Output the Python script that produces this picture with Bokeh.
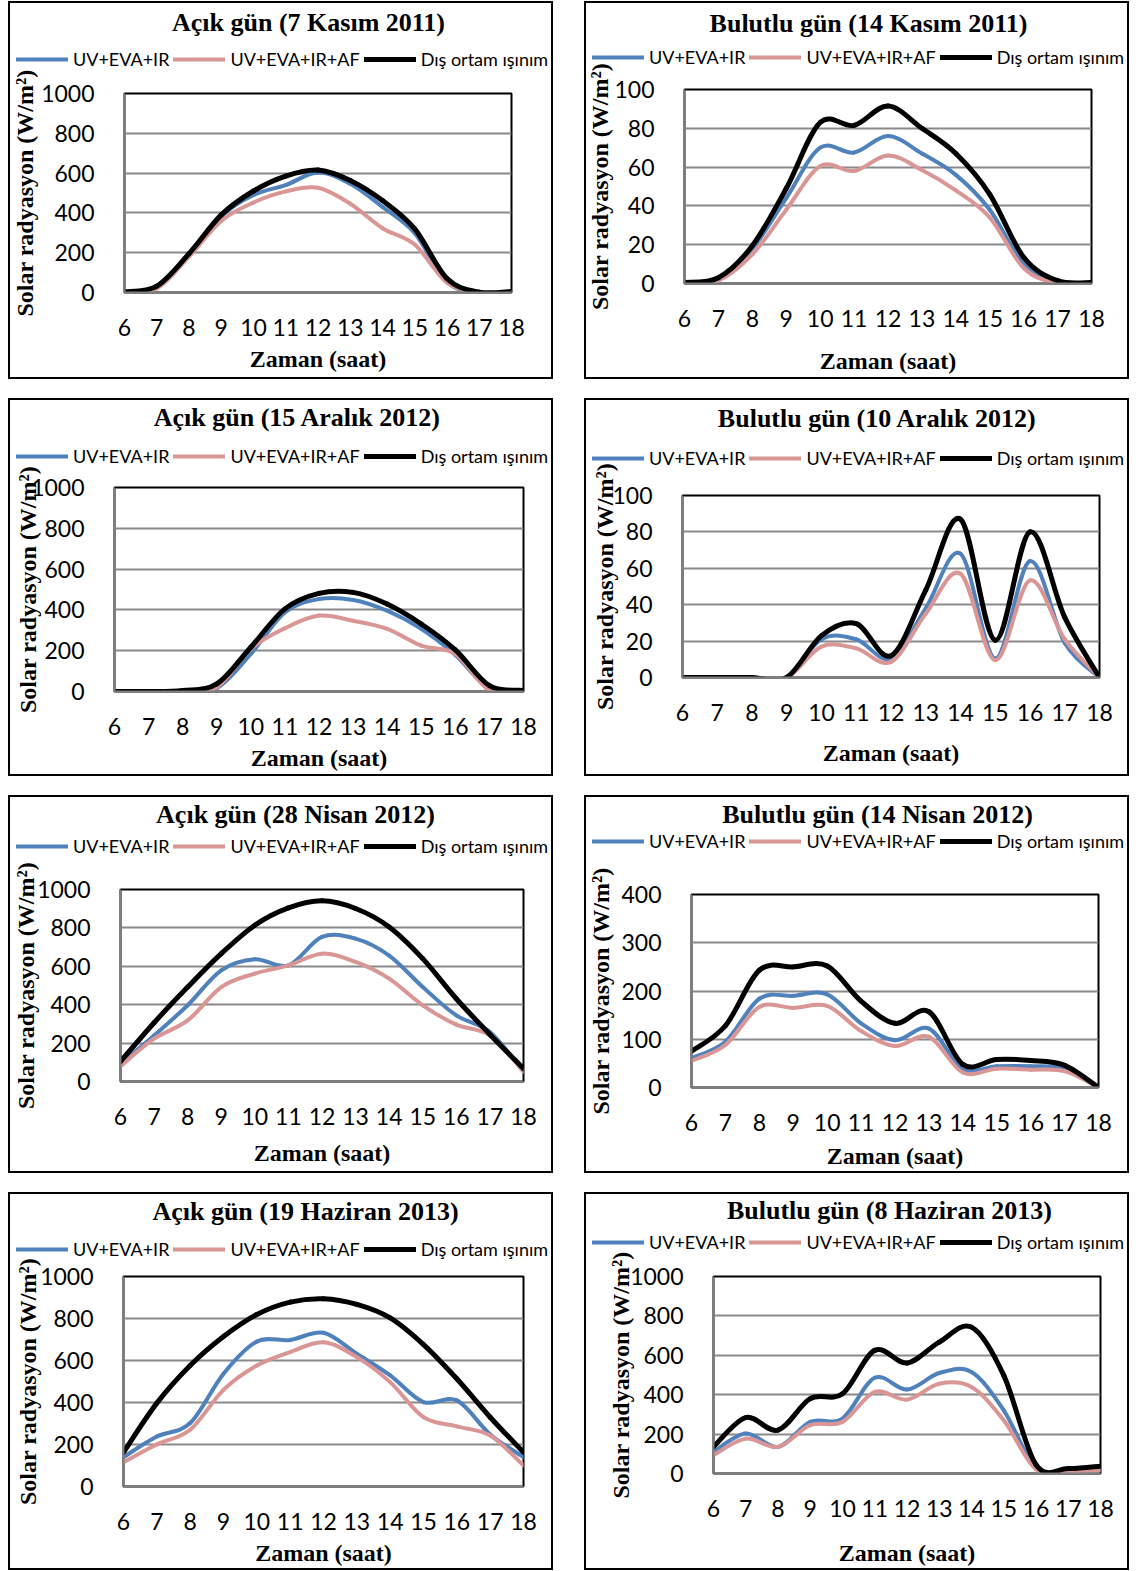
from bokeh.plotting import figure
from bokeh.models import (Range1d, SingleIntervalTicker, FixedTicker, Legend,
                          LegendItem, Label, ColumnDataSource)
from bokeh.embed import file_html
from bokeh.resources import INLINE

# ---------------------------------------------------------------- data
hours = [6, 7, 8, 9, 10, 11, 12, 13, 14, 15, 16, 17, 18]

titles = [
    "Açık gün (7 Kasım 2011)", "Bulutlu gün (14 Kasım 2011)",
    "Açık gün (15 Aralık 2012)", "Bulutlu gün (10 Aralık 2012)",
    "Açık gün (28 Nisan 2012)", "Bulutlu gün (14 Nisan 2012)",
    "Açık gün (19 Haziran 2013)", "Bulutlu gün (8 Haziran 2013)",
]
y_max = [1000, 100, 1000, 100, 1000, 400, 1000, 1000]
y_step = [200, 20, 200, 20, 200, 100, 200, 200]

series_names = ["UV+EVA+IR", "UV+EVA+IR+AF", "Dış ortam ışınım"]

# 7 Kasım 2011 (açık)
blue_1 = [2, 25, 188, 383, 490, 540, 603, 546, 430, 298, 52, 0, 3]
pink_1 = [2, 20, 180, 360, 452, 508, 526, 446, 323, 241, 50, 0, 3]
black_1 = [3, 32, 195, 390, 510, 585, 615, 563, 462, 320, 70, 2, 5]
# 14 Kasım 2011 (bulutlu)
blue_2 = [0, 2.5, 18, 44, 70, 67.5, 76, 67, 56, 38, 10, 0.5, 0]
pink_2 = [0, 1.5, 15, 38, 60.5, 58, 66, 58.5, 48, 34, 8, 0, 0]
black_2 = [0.5, 3, 19.5, 49, 83, 81.5, 91.5, 80, 67, 46, 13.5, 1.5, 0.5]
# 15 Aralık 2012 (açık)
blue_3 = [0, 0, 0, 16, 184, 388, 453, 449, 396, 307, 179, 13, 0]
pink_3 = [0, 0, 0, 21, 209, 310, 372, 347, 307, 225, 184, 5, 0]
black_3 = [0, 0, 5, 37, 217, 405, 481, 486, 429, 331, 204, 29, 5]
# 10 Aralık 2012 (bulutlu)
blue_4 = [0, 0, 0, 0, 21, 21, 10.4, 38, 68, 10.4, 64, 19, 0]
pink_4 = [0, 0, 0, 0, 17, 16, 8.6, 35, 57, 9.5, 53.4, 21, 0]
black_4 = [0, 0, 0, 0, 23, 29.6, 12, 48, 87, 20.5, 80, 33, 0]
# 28 Nisan 2012 (açık)
blue_5 = [92, 240, 397, 579, 637, 605, 753, 744, 656, 492, 344, 258, 52]
pink_5 = [80, 223, 318, 492, 562, 605, 666, 623, 536, 397, 296, 240, 52]
black_5 = [104, 306, 492, 666, 814, 904, 941, 901, 805, 640, 431, 245, 67]
# 14 Nisan 2012 (bulutlu)
blue_6 = [61, 95, 184, 190, 193, 133, 98, 122, 39, 44, 44, 39, 0]
pink_6 = [55, 88, 167, 165, 169, 117, 86, 105, 31, 39, 37, 34, 0]
black_6 = [75, 128, 243, 250, 252, 179, 133, 157, 48, 58, 56, 46, 0]
# 19 Haziran 2013 (açık)
blue_7 = [140, 238, 302, 537, 690, 698, 732, 632, 529, 402, 410, 248, 140]
pink_7 = [116, 200, 270, 460, 576, 640, 687, 616, 497, 330, 286, 243, 100]
black_7 = [163, 397, 576, 714, 819, 878, 894, 867, 803, 676, 513, 330, 163]
# 8 Haziran 2013 (bulutlu)
blue_8 = [110, 203, 135, 262, 279, 486, 426, 510, 515, 321, 30, 17, 17]
pink_8 = [93, 177, 135, 245, 262, 414, 375, 456, 439, 270, 22, 12, 17]
black_8 = [135, 284, 220, 380, 405, 625, 561, 667, 743, 498, 45, 25, 37]

panel_series = [
    (blue_1, pink_1, black_1), (blue_2, pink_2, black_2),
    (blue_3, pink_3, black_3), (blue_4, pink_4, black_4),
    (blue_5, pink_5, black_5), (blue_6, pink_6, black_6),
    (blue_7, pink_7, black_7), (blue_8, pink_8, black_8),
]

# ---------------------------------------------------------------- styling
COLORS = ["#4F81BD", "#D99694", "#000000"]
WIDTHS = [4, 4, 5]
GRID = "#8a8a8a"
SERIF = "Liberation Serif"
SANS = "Lato"

BOX_W, BOX_H = 545, 378
HEAD_H = 80
BOX_X = [8, 584]
BOX_Y = [1, 398, 795, 1192]

# per panel: frame insets (left, right, top, bottom), title centre (x, y),
# legend centre y, y-axis / x-axis title standoffs
frames = [
    dict(l=116, r=42, t=92, b=87, tx=300, ty=21, ly=59, sy=0, sx=7),
    dict(l=100, r=38, t=88, b=96, tx=284, ty=22, ly=57, sy=-2, sx=18),
    dict(l=106, r=30, t=89, b=85, tx=289, ty=19, ly=59, sy=-13, sx=7),
    dict(l=98, r=30, t=97, b=99, tx=293, ty=20, ly=61, sy=-9, sx=16),
    dict(l=112, r=30, t=94, b=92, tx=287, ty=19, ly=52, sy=-5, sx=12),
    dict(l=107, r=31, t=99, b=86, tx=293, ty=19, ly=47, sy=4, sx=9),
    dict(l=115, r=30, t=84, b=84, tx=297, ty=19, ly=58, sy=-4, sx=7),
    dict(l=129, r=29, t=84, b=97, tx=305, ty=18, ly=51, sy=-7, sx=20),
]


def bezier_source(xs, ys):
    """Smoothed line through the hourly points (cubic Bezier per interval)."""
    n = len(xs)
    cols = {k: [] for k in ("x0", "y0", "x1", "y1", "cx0", "cy0", "cx1", "cy1")}
    for i in range(n - 1):
        a = max(i - 1, 0)
        d = min(i + 2, n - 1)
        cols["x0"].append(xs[i])
        cols["y0"].append(ys[i])
        cols["x1"].append(xs[i + 1])
        cols["y1"].append(ys[i + 1])
        cols["cx0"].append(xs[i] + (xs[i + 1] - xs[a]) / 6)
        cols["cy0"].append(ys[i] + (ys[i + 1] - ys[a]) / 6)
        cols["cx1"].append(xs[i + 1] - (xs[d] - xs[i]) / 6)
        cols["cy1"].append(ys[i + 1] - (ys[d] - ys[i]) / 6)
    return ColumnDataSource(cols)


def place(fig, x, y, **extra):
    fig.styles = {"position": "absolute", "left": f"{x}px", "top": f"{y}px", **extra}


def make_chart(k, x, y):
    f = frames[k]
    ymax, step = y_max[k], y_step[k]

    p = figure(width=BOX_W, height=BOX_H, output_backend="svg",
               toolbar_location=None, title=None,
               x_range=Range1d(6, 18), y_range=Range1d(0, ymax),
               min_border_left=f["l"], min_border_right=f["r"],
               min_border_top=f["t"], min_border_bottom=f["b"])
    place(p, x, y, **{"outline": "2px solid #000000", "outline-offset": "-2px"})
    p.background_fill_color = "white"
    p.border_fill_alpha = 0
    p.outline_line_color = "black"
    p.outline_line_width = 2

    p.xgrid.visible = False
    p.ygrid.ticker = FixedTicker(ticks=list(range(0, ymax, step)))
    p.ygrid.grid_line_color = GRID
    p.ygrid.grid_line_width = 2

    for ax in (p.xaxis[0], p.yaxis[0]):
        ax.major_tick_line_color = None
        ax.minor_tick_line_color = None
        ax.major_tick_out = 0
        ax.major_tick_in = 0
        ax.axis_line_color = "#7f7f7f"
        ax.axis_line_width = 2
        ax.major_label_text_font = SANS
        ax.major_label_text_font_size = "23px"
        ax.major_label_text_color = "black"
        ax.axis_label_text_font = SERIF
        ax.axis_label_text_font_style = "bold"
        ax.axis_label_text_font_size = "24px"
        ax.axis_label_text_color = "black"

    p.xaxis.ticker = SingleIntervalTicker(interval=1)
    p.xaxis.major_label_standoff = 22
    p.xaxis.axis_label = "Zaman (saat)"
    p.xaxis.axis_label_standoff = f["sx"]

    p.yaxis.ticker = SingleIntervalTicker(interval=step)
    p.yaxis.major_label_standoff = 26
    p.yaxis.axis_label = "Solar radyasyon (W/m²)"
    p.yaxis.axis_label_standoff = f["sy"]

    for vals, col, lw in zip(panel_series[k], COLORS, WIDTHS):
        p.bezier(x0="x0", y0="y0", x1="x1", y1="y1", cx0="cx0", cy0="cy0",
                 cx1="cx1", cy1="cy1", source=bezier_source(hours, vals),
                 line_color=col, line_width=lw, line_cap="round")
    return p


def make_header(k, x, y):
    """Title and legend strip over the top of a chart box (pixel-like ranges)."""
    f = frames[k]
    h = figure(width=BOX_W, height=HEAD_H, output_backend="svg",
               toolbar_location=None, title=None,
               x_range=Range1d(0, BOX_W), y_range=Range1d(HEAD_H, 0),
               x_axis_location=None, y_axis_location=None,
               min_border=0)
    place(h, x, y)
    h.grid.visible = False
    h.outline_line_color = None
    h.background_fill_alpha = 0
    h.border_fill_alpha = 0

    # legend keys: line renderers with no drawable points, styled like the series
    nan = float("nan")
    keys = []
    for name, col, lw in zip(series_names, COLORS, WIDTHS):
        r = h.line(x=[nan], y=[nan], line_color=col, line_width=lw, line_cap="round")
        keys.append(LegendItem(label=name, renderers=[r]))

    legend = Legend(
        items=keys, location=(8, HEAD_H - f["ly"] - 10),
        orientation="horizontal",
        glyph_width=52, glyph_height=20, label_height=20, label_width=10,
        label_standoff=5, spacing=4, padding=0, margin=0,
        border_line_color=None, background_fill_alpha=0,
        label_text_font=SANS, label_text_font_size="18px",
        label_text_color="black", label_text_baseline="middle",
    )
    h.add_layout(legend)

    h.add_layout(Label(
        x=f["tx"], y=f["ty"], text=titles[k], text_font=SERIF,
        text_font_style="bold", text_font_size="26px", text_color="black",
        text_align="center", text_baseline="middle",
    ))
    return h


roots = []
for k in range(8):
    bx, by = BOX_X[k % 2], BOX_Y[k // 2]
    roots.append(make_chart(k, bx, by))
    roots.append(make_header(k, bx, by))

open("out.html", "w").write(file_html(roots, INLINE))
